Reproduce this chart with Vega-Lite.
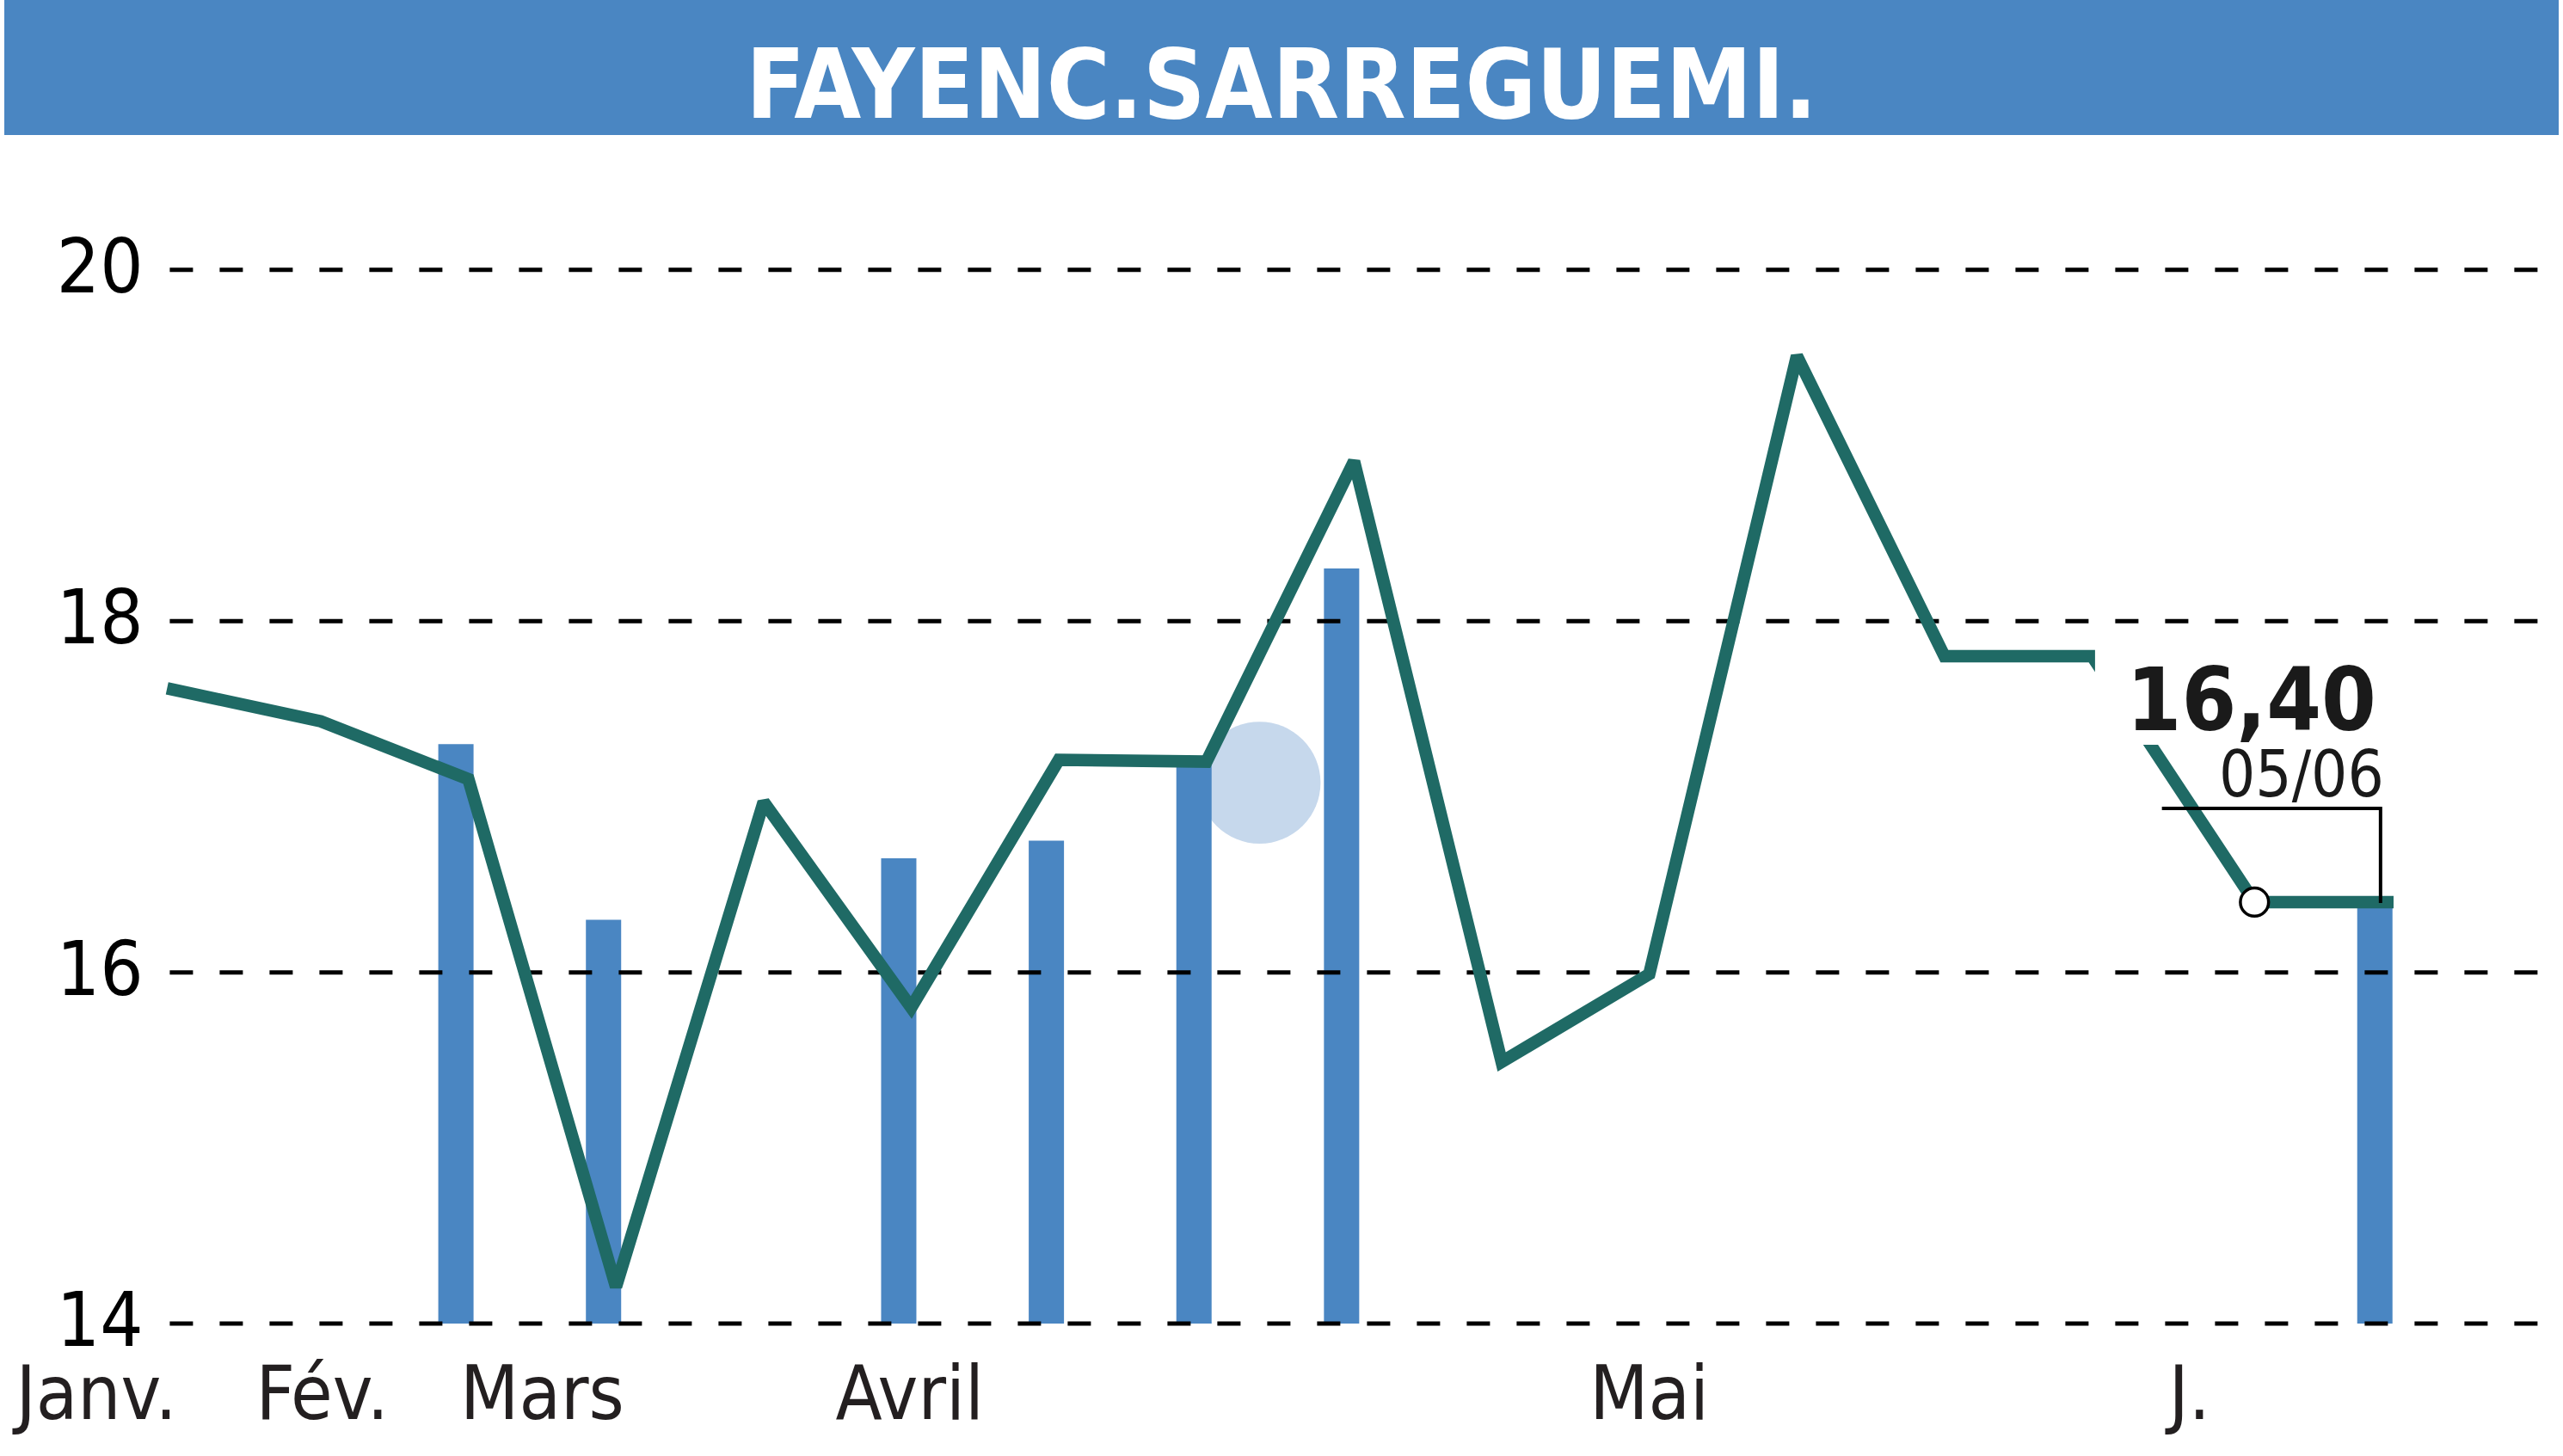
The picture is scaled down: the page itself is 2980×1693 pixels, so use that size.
{
  "$schema": "https://vega.github.io/schema/vega-lite/v6.json",
  "width": 2980,
  "height": 1693,
  "autosize": {"type": "none"},
  "padding": 0,
  "background": "white",
  "view": {"stroke": null},
  "config": {"font": "DejaVu Sans Condensed, Liberation Sans, sans-serif"},
  "datasets": {
    "prices": [
      {"i": 0, "close": 17.61}, {"i": 1, "close": 17.43}, {"i": 2, "close": 17.10},
      {"i": 3, "close": 14.21}, {"i": 4, "close": 16.97}, {"i": 5, "close": 15.80},
      {"i": 6, "close": 17.21}, {"i": 7, "close": 17.20}, {"i": 8, "close": 18.91},
      {"i": 9, "close": 15.49}, {"i": 10, "close": 15.99}, {"i": 11, "close": 19.51},
      {"i": 12, "close": 17.80}, {"i": 13, "close": 17.80}, {"i": 14.1, "close": 16.40},
      {"i": 15, "close": 16.40}
    ],
    "volume": [
      {"i": 2, "v": 17.3}, {"i": 3, "v": 16.3}, {"i": 5, "v": 16.65},
      {"i": 6, "v": 16.75}, {"i": 7, "v": 17.18}, {"i": 8, "v": 18.3}, {"i": 15, "v": 16.4}
    ],
    "grid": [{"level": 14}, {"level": 16}, {"level": 18}, {"level": 20}],
    "months": [
      {"month": "Janv.", "pos": -0.52}, {"month": "Fév.", "pos": 1.01},
      {"month": "Mars", "pos": 2.50}, {"month": "Avril", "pos": 4.99},
      {"month": "Mai", "pos": 10.0}, {"month": "J.", "pos": 13.66}
    ],
    "one": [{}]
  },
  "layer": [
    {
      "data": {"name": "one"},
      "mark": {"type": "point", "filled": true, "shape": "circle", "color": "#c6d8ec", "opacity": 1, "size": 20100},
      "encoding": {
        "x": {"datum": 7.36, "type": "quantitative", "scale": {"domain": [-1.144, 16.161], "nice": false, "zero": false}, "axis": null},
        "y": {"datum": 17.08, "type": "quantitative", "scale": {"domain": [13.246, 21.537], "nice": false, "zero": false}, "axis": null}
      }
    },
    {
      "data": {"name": "volume"},
      "mark": {"type": "bar", "width": 41, "xOffset": -14.5, "color": "#4a86c2"},
      "encoding": {
        "x": {"field": "i", "type": "quantitative", "scale": {"domain": [-1.144, 16.161], "nice": false, "zero": false}, "axis": null},
        "y": {"field": "v", "type": "quantitative", "scale": {"domain": [13.246, 21.537], "nice": false, "zero": false}, "axis": null},
        "y2": {"datum": 14}
      }
    },
    {
      "data": {"name": "grid"},
      "mark": {"type": "rule", "color": "#000000", "strokeWidth": 5, "strokeDash": [27, 31]},
      "encoding": {
        "x": {"datum": -0.023, "type": "quantitative", "scale": {"domain": [-1.144, 16.161], "nice": false, "zero": false}, "axis": null},
        "x2": {"datum": 16.161},
        "y": {"field": "level", "type": "quantitative", "scale": {"domain": [13.246, 21.537], "nice": false, "zero": false}, "axis": null}
      }
    },
    {
      "data": {"name": "grid"},
      "mark": {"type": "text", "align": "right", "baseline": "middle", "fontSize": 88, "color": "#000000"},
      "encoding": {
        "text": {"field": "level", "type": "quantitative", "format": "d"},
        "x": {"datum": -0.203, "type": "quantitative", "scale": {"domain": [-1.144, 16.161], "nice": false, "zero": false}, "axis": null},
        "y": {"field": "level", "type": "quantitative", "scale": {"domain": [13.246, 21.537], "nice": false, "zero": false}, "axis": null}
      }
    },
    {
      "data": {"name": "prices"},
      "mark": {"type": "line", "color": "#1f6a65", "strokeWidth": 14.5, "strokeCap": "square", "strokeJoin": "miter", "strokeMiterLimit": 2},
      "encoding": {
        "x": {"field": "i", "type": "quantitative", "scale": {"domain": [-1.144, 16.161], "nice": false, "zero": false}, "axis": null},
        "y": {"field": "close", "type": "quantitative", "scale": {"domain": [13.246, 21.537], "nice": false, "zero": false}, "axis": null}
      }
    },
    {
      "data": {"name": "one"},
      "mark": {"type": "rect", "color": "#ffffff"},
      "encoding": {
        "x": {"datum": 13.02, "type": "quantitative", "scale": {"domain": [-1.144, 16.161], "nice": false, "zero": false}, "axis": null},
        "x2": {"datum": 15.4},
        "y": {"datum": 17.296, "type": "quantitative", "scale": {"domain": [13.246, 21.537], "nice": false, "zero": false}, "axis": null},
        "y2": {"datum": 17.94}
      }
    },
    {
      "data": {"name": "one"},
      "mark": {"type": "rule", "color": "#000000", "strokeWidth": 4},
      "encoding": {
        "x": {"datum": 13.473, "type": "quantitative", "scale": {"domain": [-1.144, 16.161], "nice": false, "zero": false}, "axis": null},
        "x2": {"datum": 14.954},
        "y": {"datum": 16.933, "type": "quantitative", "scale": {"domain": [13.246, 21.537], "nice": false, "zero": false}, "axis": null}
      }
    },
    {
      "data": {"name": "one"},
      "mark": {"type": "rule", "color": "#000000", "strokeWidth": 4},
      "encoding": {
        "x": {"datum": 14.954, "type": "quantitative", "scale": {"domain": [-1.144, 16.161], "nice": false, "zero": false}, "axis": null},
        "y": {"datum": 16.943, "type": "quantitative", "scale": {"domain": [13.246, 21.537], "nice": false, "zero": false}, "axis": null},
        "y2": {"datum": 16.395}
      }
    },
    {
      "data": {"name": "one"},
      "mark": {"type": "point", "filled": true, "shape": "circle", "fill": "#ffffff", "stroke": "#000000", "strokeWidth": 3.5, "opacity": 1, "size": 1075},
      "encoding": {
        "x": {"datum": 14.1, "type": "quantitative", "scale": {"domain": [-1.144, 16.161], "nice": false, "zero": false}, "axis": null},
        "y": {"datum": 16.40, "type": "quantitative", "scale": {"domain": [13.246, 21.537], "nice": false, "zero": false}, "axis": null}
      }
    },
    {
      "data": {"values": [{"label": "16,40"}]},
      "mark": {"type": "text", "align": "right", "baseline": "alphabetic", "fontSize": 102, "fontWeight": "bold", "color": "#1a1a1a"},
      "encoding": {
        "text": {"field": "label"},
        "x": {"datum": 14.925, "type": "quantitative", "scale": {"domain": [-1.144, 16.161], "nice": false, "zero": false}, "axis": null},
        "y": {"datum": 17.38, "type": "quantitative", "scale": {"domain": [13.246, 21.537], "nice": false, "zero": false}, "axis": null}
      }
    },
    {
      "data": {"values": [{"label": "05/06"}]},
      "mark": {"type": "text", "align": "right", "baseline": "alphabetic", "fontSize": 74, "color": "#1a1a1a"},
      "encoding": {
        "text": {"field": "label"},
        "x": {"datum": 14.977, "type": "quantitative", "scale": {"domain": [-1.144, 16.161], "nice": false, "zero": false}, "axis": null},
        "y": {"datum": 17.0, "type": "quantitative", "scale": {"domain": [13.246, 21.537], "nice": false, "zero": false}, "axis": null}
      }
    },
    {
      "data": {"name": "one"},
      "mark": {"type": "rect", "color": "#4a86c2"},
      "encoding": {
        "x": {"datum": -1.144, "type": "quantitative", "scale": {"domain": [-1.144, 16.161], "nice": false, "zero": false}, "axis": null},
        "x2": {"datum": 16.161},
        "y": {"datum": 20.768, "type": "quantitative", "scale": {"domain": [13.246, 21.537], "nice": false, "zero": false}, "axis": null},
        "y2": {"datum": 21.537}
      }
    },
    {
      "data": {"values": [{"title": "FAYENC.SARREGUEMI."}]},
      "mark": {"type": "text", "align": "center", "baseline": "alphabetic", "fontSize": 112, "fontWeight": "bold", "color": "#ffffff"},
      "encoding": {
        "text": {"field": "title"},
        "x": {"datum": 7.509, "type": "quantitative", "scale": {"domain": [-1.144, 16.161], "nice": false, "zero": false}, "axis": null},
        "y": {"datum": 20.866, "type": "quantitative", "scale": {"domain": [13.246, 21.537], "nice": false, "zero": false}, "axis": null}
      }
    },
    {
      "data": {"name": "months"},
      "mark": {"type": "text", "align": "center", "baseline": "alphabetic", "fontSize": 88, "color": "#231f20"},
      "encoding": {
        "text": {"field": "month"},
        "x": {"field": "pos", "type": "quantitative", "scale": {"domain": [-1.144, 16.161], "nice": false, "zero": false}, "axis": null},
        "y": {"datum": 13.455, "type": "quantitative", "scale": {"domain": [13.246, 21.537], "nice": false, "zero": false}, "axis": null}
      }
    }
  ]
}
